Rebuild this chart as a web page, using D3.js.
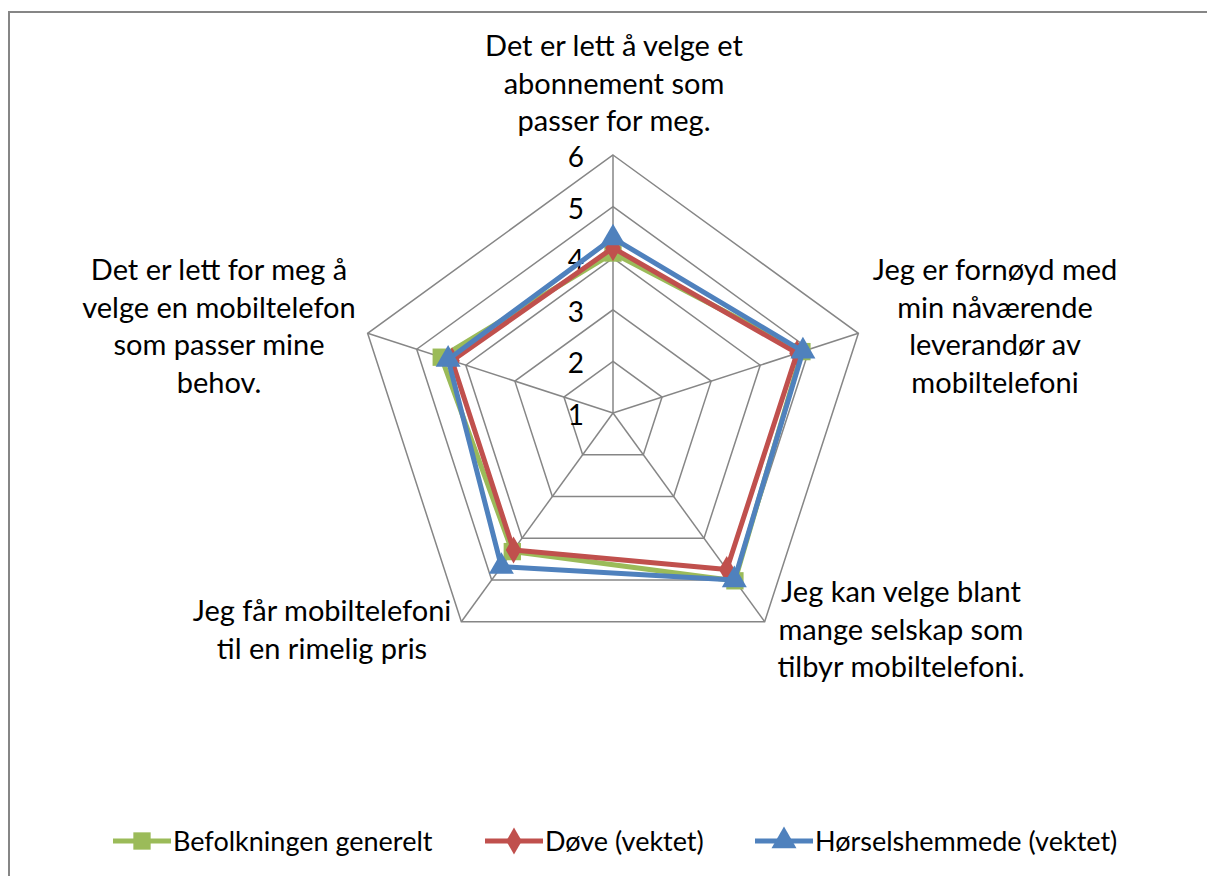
<!DOCTYPE html>
<html>
<head>
<meta charset="utf-8">
<script src="https://cdn.jsdelivr.net/npm/d3@7"></script>
<style>
  body { margin: 0; background: #fff; }
  text { font-family: Lato, "Open Sans", sans-serif; fill: #000; }
</style>
</head>
<body>
<div id="graphic"></div>
<script>
// axis categories (clockwise from top), each label split into lines
const categories = [
  ["Det er lett å velge et", "abonnement som", "passer for meg."],
  ["Jeg er fornøyd med", "min nåværende", "leverandør av", "mobiltelefoni"],
  ["Jeg kan velge blant", "mange selskap som", "tilbyr mobiltelefoni."],
  ["Jeg får mobiltelefoni", "til en rimelig pris"],
  ["Det er lett for meg å", "velge en mobiltelefon", "som passer mine", "behov."]
];
const seriesNames = ["Befolkningen generelt", "Døve (vektet)", "Hørselshemmede (vektet)"];
const befolkning = [4.1, 4.85, 5.02, 4.32, 4.5];
const dove = [4.2, 4.75, 4.75, 4.28, 4.28];
const horsel = [4.39, 4.87, 5.0, 4.68, 4.36];
const tickValues = [1, 2, 3, 4, 5, 6];

const W = 1207, H = 876;
const cx = 613, cy = 413;
const colors = ["#9BBB59", "#C0504D", "#4F81BD"];
const symbols = [d3.symbolSquare, d3.symbolDiamond, d3.symbolTriangle];
const symSizes = [300, 210, 270];

const svg = d3.select("#graphic").append("svg")
  .attr("width", W).attr("height", H);

// chart frame
svg.append("rect")
  .attr("x", 9).attr("y", 12)
  .attr("width", W + 20).attr("height", H + 20)
  .attr("fill", "none").attr("stroke", "#868686").attr("stroke-width", 2);

const rScale = d3.scaleLinear().domain([1, 6]).range([0, 258]);
const angle = i => -Math.PI / 2 + i * 2 * Math.PI / categories.length;
const pt = (v, i) => [cx + rScale(v) * Math.cos(angle(i)), cy + rScale(v) * Math.sin(angle(i))];

const plot = svg.append("g");

// grid pentagons
plot.selectAll("path.grid")
  .data(tickValues.slice(1))
  .enter().append("path")
  .attr("class", "grid")
  .attr("d", t => d3.line()(categories.map((c, i) => pt(t, i))) + "Z")
  .attr("fill", "none").attr("stroke", "#868686").attr("stroke-width", 1.5);

// spokes
plot.selectAll("line.spoke")
  .data(categories)
  .enter().append("line")
  .attr("class", "spoke")
  .attr("x1", cx).attr("y1", cy)
  .attr("x2", (c, i) => pt(6, i)[0])
  .attr("y2", (c, i) => pt(6, i)[1])
  .attr("stroke", "#868686").attr("stroke-width", 1.5);

// tick labels
plot.selectAll("text.tick")
  .data(tickValues)
  .enter().append("text")
  .attr("class", "tick")
  .attr("x", cx - 29)
  .attr("y", t => cy - rScale(t) + 12)
  .attr("text-anchor", "end")
  .style("font-size", "28px")
  .text(t => t);

// category labels
const labelPos = [
  { x: 614, y: 56 },
  { x: 995, y: 280 },
  { x: 901, y: 602 },
  { x: 322, y: 621 },
  { x: 219, y: 280 }
];
categories.forEach((lines, i) => {
  const t = plot.append("text")
    .attr("text-anchor", "middle")
    .style("font-size", "29px");
  lines.forEach((ln, j) => {
    t.append("tspan")
      .attr("x", labelPos[i].x)
      .attr("y", labelPos[i].y + j * 37.5)
      .text(ln);
  });
});

// series
const allSeries = [befolkning, dove, horsel];
allSeries.forEach((vals, s) => {
  const pts = vals.map((v, i) => pt(v, i));
  plot.append("path")
    .attr("d", d3.line()(pts) + "Z")
    .attr("fill", "none")
    .attr("stroke", colors[s])
    .attr("stroke-width", 5)
    .attr("stroke-linejoin", "round");
  plot.selectAll(null)
    .data(pts)
    .enter().append("path")
    .attr("transform", d => `translate(${d[0]},${d[1]})`)
    .attr("d", d3.symbol().type(symbols[s]).size(symSizes[s]))
    .attr("fill", colors[s]);
});

// legend
const legendX = [113, 485, 755];
const legend = svg.append("g");
seriesNames.forEach((name, s) => {
  const g = legend.append("g").attr("transform", `translate(${legendX[s]}, 841)`);
  g.append("line")
    .attr("x1", 0).attr("x2", 58)
    .attr("stroke", colors[s]).attr("stroke-width", 5);
  g.append("path")
    .attr("transform", "translate(29,0)")
    .attr("d", d3.symbol().type(symbols[s]).size(symSizes[s]))
    .attr("fill", colors[s]);
  g.append("text")
    .attr("x", 60).attr("y", 10)
    .style("font-size", "27px")
    .text(name);
});
</script>
</body>
</html>
